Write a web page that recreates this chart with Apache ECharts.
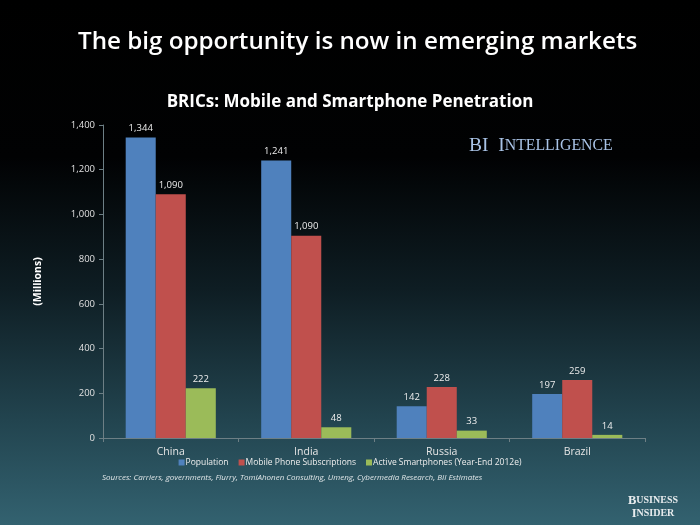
<!DOCTYPE html>
<html><head><meta charset="utf-8">
<script src="https://cdn.jsdelivr.net/npm/echarts@6/dist/echarts.min.js"></script>
<style>html,body{margin:0;padding:0;background:#000}#c{width:700px;height:525px}</style>
</head><body><div id="c"></div>
<script>
const categories = ['China', 'India', 'Russia', 'Brazil'];
const population = [1344, 1241, 142, 197];
const mobileSubs = [1090, 905, 228, 259];
const mobileSubsLabels = ['1,090', '1,090', '228', '259'];
const smartphones = [222, 48, 33, 14];
const seriesNames = ['Population', 'Mobile Phone Subscriptions', 'Active Smartphones (Year-End 2012e)'];
const yTicks = { min: 0, max: 1400, interval: 200 };

const fmt = v => String(v).replace(/\B(?=(\d{3})+(?!\d))/g, ',');
const font = '"Open Sans", "Noto Sans", sans-serif';
const chart = echarts.init(document.getElementById('c'), null, { renderer: 'canvas' });
const labelStyle = { show: true, position: 'top', color: '#eeeeee', fontSize: 9.5, fontFamily: font, distance: 4 };
const serif = '"Liberation Serif", serif';

chart.setOption({
  backgroundColor: {
    type: 'linear', x: 0, y: 0, x2: 0, y2: 1,
    colorStops: [
      { offset: 0, color: '#000000' },
      { offset: 0.3, color: '#010203' },
      { offset: 0.55, color: '#0e1d23' },
      { offset: 0.8, color: '#22444f' },
      { offset: 1, color: '#336270' }
    ]
  },
  animation: false,
  title: [
    { text: 'The big opportunity is now in emerging markets', left: 73, top: 25,
      textStyle: { color: '#ffffff', fontSize: 24.2, fontWeight: 600, fontFamily: font } },
    { text: 'BRICs: Mobile and Smartphone Penetration', left: 'center', top: 89,
      textStyle: { color: '#ffffff', fontSize: 17, fontWeight: 'bold', fontFamily: font } }
  ],
  grid: { left: 103, right: 55, top: 125, bottom: 87 },
  legend: {
    data: seriesNames, bottom: 53, left: 'center', itemWidth: 6, itemHeight: 6, itemGap: 10,
    icon: 'rect',
    textStyle: { color: '#eeeeee', fontSize: 8.5, fontFamily: font, padding: [0, 0, 0, -4] }
  },
  xAxis: {
    type: 'category', data: categories,
    axisLine: { lineStyle: { color: '#6d7f85' } },
    axisTick: { show: true, length: 4, lineStyle: { color: '#6d7f85' } },
    axisLabel: { color: '#e6e6e6', fontSize: 10.5, fontFamily: font, margin: 9 }
  },
  yAxis: {
    type: 'value', min: yTicks.min, max: yTicks.max, interval: yTicks.interval,
    name: '(Millions)', nameLocation: 'middle', nameGap: 59, nameRotate: 90,
    nameTextStyle: { color: '#ffffff', fontSize: 10.5, fontWeight: 'bold', fontFamily: font },
    axisLine: { show: true, lineStyle: { color: '#6d7f85' } },
    axisTick: { show: true, length: 4, lineStyle: { color: '#6d7f85' } },
    splitLine: { show: false },
    axisLabel: { color: '#e0e0e0', fontSize: 9.5, fontFamily: font, margin: 8, formatter: v => fmt(v) }
  },
  series: [
    { name: seriesNames[0], type: 'bar', data: population, barGap: '0%', barCategoryGap: '33.5%',
      itemStyle: { color: '#4f81bd' }, label: Object.assign({}, labelStyle, { formatter: p => fmt(p.value) }) },
    { name: seriesNames[1], type: 'bar', data: mobileSubs,
      itemStyle: { color: '#c0504d' }, label: Object.assign({}, labelStyle, { formatter: p => mobileSubsLabels[p.dataIndex] }) },
    { name: seriesNames[2], type: 'bar', data: smartphones,
      itemStyle: { color: '#9bbb59' }, label: Object.assign({}, labelStyle, { formatter: p => fmt(p.value) }) }
  ],
  graphic: [
    { type: 'text', left: 469, top: 136,
      style: { text: '{a|BI  I}{b|NTELLIGENCE}', rich: {
        a: { fontFamily: serif, fontSize: 19.5, fill: '#a9c3e6' },
        b: { fontFamily: serif, fontSize: 15.8, fill: '#a9c3e6' }
      } } },
    { type: 'text', left: 102, top: 474,
      style: { text: 'Sources: Carriers, governments, Flurry, TomiAhonen Consulting, Umeng, Cybermedia Research, BII Estimates',
        fill: '#e0e6e8', font: 'italic 8px "Open Sans", sans-serif' } },
    { type: 'text', x: 653, y: 494,
      style: { text: '{a|B}{b|USINESS}', textAlign: 'center', rich: {
        a: { fontFamily: serif, fontSize: 12.5, fontWeight: 'bold', fill: '#e8ecee' },
        b: { fontFamily: serif, fontSize: 10, fontWeight: 'bold', fill: '#e8ecee' }
      } } },
    { type: 'text', x: 653, y: 507,
      style: { text: '{a|I}{b|NSIDER}', textAlign: 'center', rich: {
        a: { fontFamily: serif, fontSize: 12.5, fontWeight: 'bold', fill: '#e8ecee' },
        b: { fontFamily: serif, fontSize: 10, fontWeight: 'bold', fill: '#e8ecee' }
      } } }
  ]
});
</script>
</body></html>
